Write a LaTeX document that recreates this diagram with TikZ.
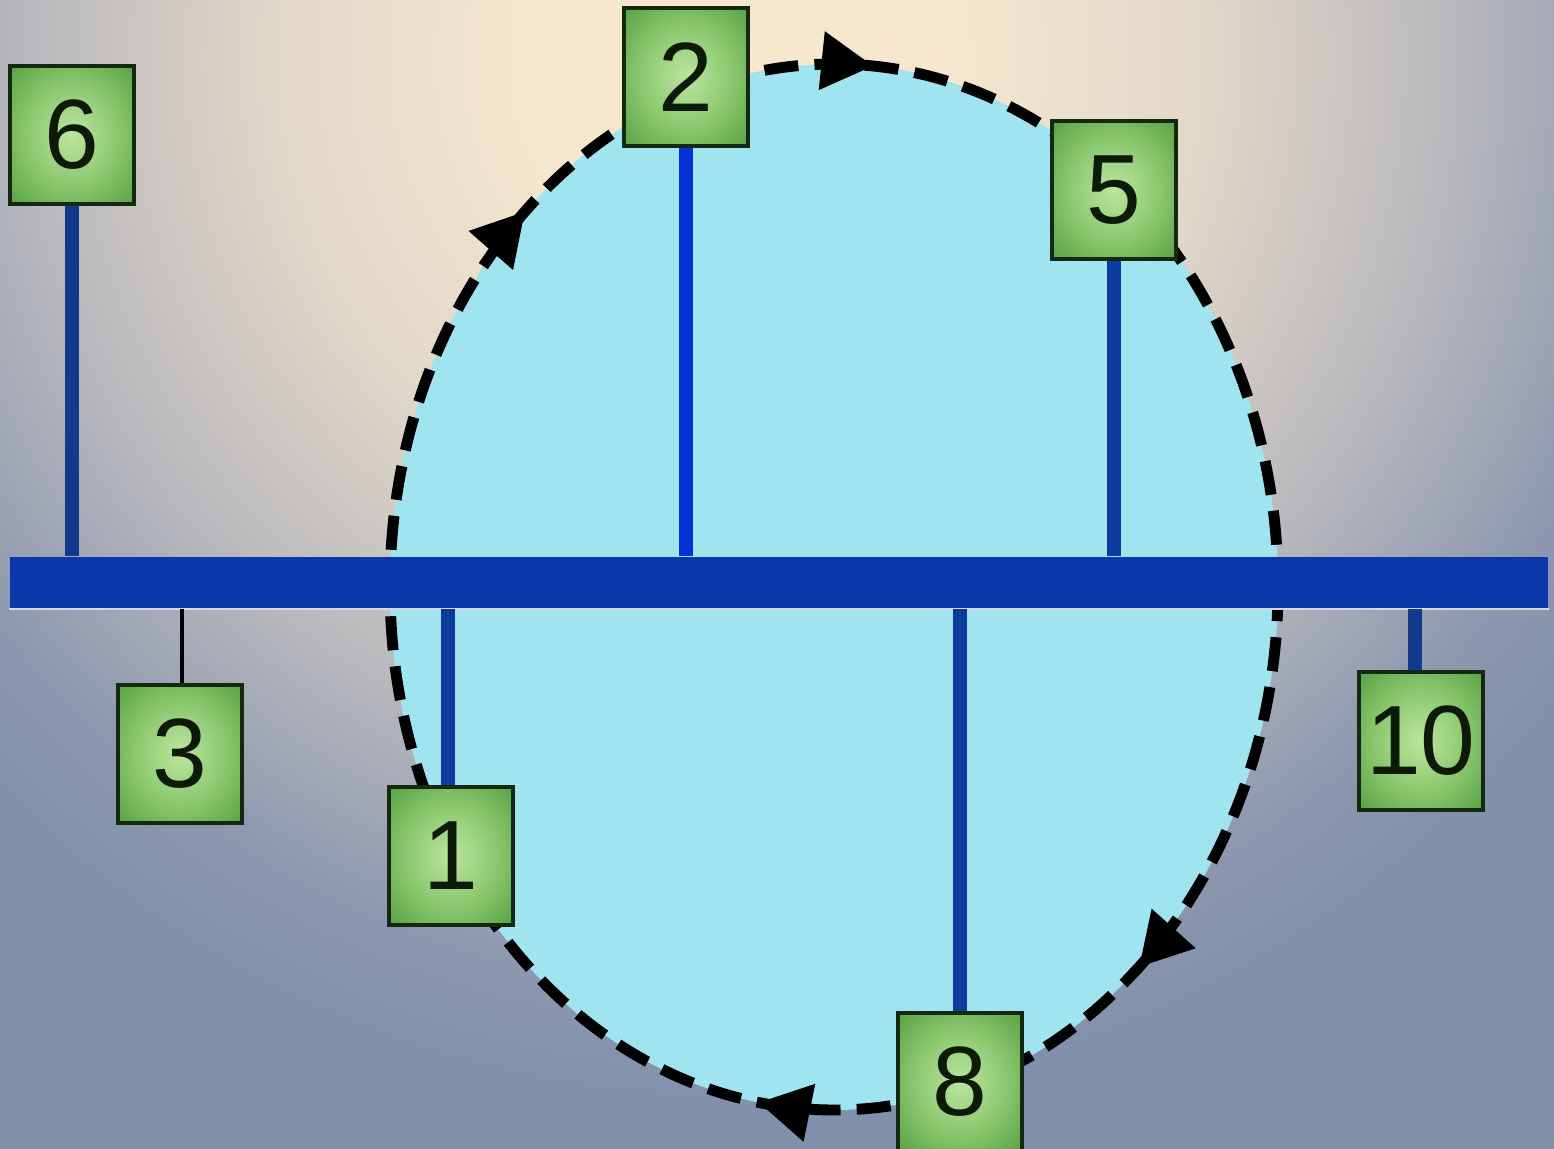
\documentclass[tikz,border=0pt]{standalone}
\usepackage{fontspec}
\setmainfont{Liberation Sans}
\usetikzlibrary{arrows.meta,decorations.markings}
\definecolor{cream}{HTML}{F6E7CE}
\definecolor{bgmidA}{HTML}{E2D8C9}
\definecolor{bgmidB}{HTML}{B4B5BB}
\definecolor{bgmidC}{HTML}{8D98AF}
\definecolor{bgblue}{HTML}{8190AB}
\definecolor{ellfill}{HTML}{A0E4F0}
\definecolor{busblue}{HTML}{0A38AC}
\definecolor{stemblue}{HTML}{0F3A9E}
\definecolor{stemdark}{HTML}{12398C}
\definecolor{stembright}{HTML}{0630D8}
\definecolor{gA}{HTML}{BCE69E}
\definecolor{gB}{HTML}{8CC870}
\definecolor{gC}{HTML}{509C3E}
\definecolor{gD}{HTML}{2F6F24}
\definecolor{boxedge}{HTML}{16280F}
\definecolor{digit}{HTML}{0D1A08}
\pgfdeclareradialshading{bgglow}{\pgfpoint{0bp}{0bp}}{color(0bp)=(cream); color(5bp)=(cream); color(11bp)=(bgmidA); color(17.5bp)=(bgmidB); color(22bp)=(bgmidC); color(25bp)=(bgblue); color(50bp)=(bgblue)}
\pgfdeclareradialshading{greenbox}{\pgfpoint{0bp}{0bp}}{color(0bp)=(gA); color(18bp)=(gB); color(38bp)=(gC); color(50bp)=(gD)}
\begin{document}
\begin{tikzpicture}[x=0.01cm, y=-0.01cm,
  box/.style={draw=boxedge, line width=1pt, shade, shading=greenbox,
    minimum width=1.24cm, minimum height=1.38cm, inner sep=0pt,
    font=\fontsize{28}{28}\selectfont, text=digit},
  stem/.style={line width=4.2pt, draw=stemblue},
  dashring/.style={draw=black, line width=3.1pt, dash pattern=on 9.7pt off 4.6pt},
  flowhead/.tip={Triangle[length=5.2mm,width=5.6mm]}]
\useasboundingbox (0,0) rectangle (1554,1149);
\begin{scope}
  \clip (0,0) rectangle (1554,1149);
  \fill[bgblue] (0,0) rectangle (1554,1149);
  \shade[shading=bgglow] (740,60) circle [radius=1050];
\end{scope}
% ring
\fill[ellfill] (834,587) ellipse [x radius=444, y radius=523];
\draw[dashring, postaction={decorate}, decoration={markings,
    mark=at position 0.136 with {\arrow{flowhead}},
    mark=at position 0.275 with {\arrow{flowhead}},
    mark=at position 0.634 with {\arrow{flowhead}},
    mark=at position 0.763 with {\arrow{flowhead}}}]
  (834,587) ellipse [x radius=444, y radius=523];
% bus
\node (bus) [fill=busblue, minimum width=15.38cm, minimum height=0.51cm, inner sep=0pt] at (779,582.5) {};
\draw[white!65!bgblue, line width=0.6pt] (bus.south west) -- (bus.south east);
% boxes
\node (b6) [box] at (72,135) {6};
\node (b2) [box] at (686,77) {2};
\node (b5) [box] at (1114,190) {5};
\node (b3) [box] at (180,754) {3};
\node (b1) [box] at (451,856) {1};
\node (b10) [box] at (1421,741) {10};
\node (b8) [box] at (960,1082) {8};
% stems
\draw[stem, draw=stemdark] (b6.south) -- (b6.south |- bus.north);
\draw[stem, draw=stembright] (b2.south) -- (b2.south |- bus.north);
\draw[stem] (b5.south) -- (b5.south |- bus.north);
\draw[line width=0.9pt, black] ([xshift=0.02cm]b3.north) -- ([xshift=0.02cm]b3.north |- bus.south);
\draw[stem] ([xshift=-0.03cm]b1.north) -- ([xshift=-0.03cm]b1.north |- bus.south);
\draw[stem] (b8.north) -- (b8.north |- bus.south);
\draw[stem, draw=stemdark] ([xshift=-0.06cm]b10.north) -- ([xshift=-0.06cm]b10.north |- bus.south);
\end{tikzpicture}
\end{document}
